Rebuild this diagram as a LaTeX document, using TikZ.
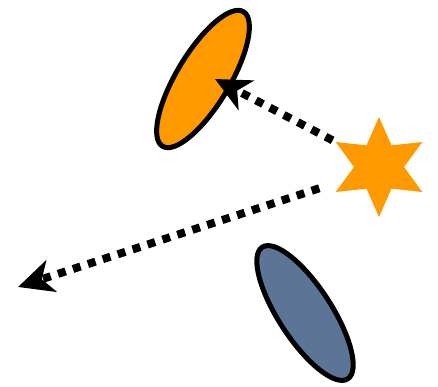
\documentclass[tikz,border=0pt]{standalone}
\usetikzlibrary{arrows.meta,shapes.geometric}
\definecolor{amber}{HTML}{FF9900}
\definecolor{slate}{HTML}{5C7596}
\begin{document}
\begin{tikzpicture}[x=1pt,y=1pt,
  blob/.style={ellipse,draw,line width=5pt,inner sep=0pt,minimum width=157pt,minimum height=53pt},
  ray/.style={line width=8pt,dash pattern=on 8pt off 7.7pt,-{Stealth[length=35pt,width=33pt,inset=10pt]}}]
  \useasboundingbox (0,0) rectangle (438,386);
  \node[blob,fill=amber,rotate=59]  (grain) at (203,307) {};
  \node[blob,fill=slate,rotate=-57] (dust)  at (305,73)  {};
  \node[star,star points=6,star point ratio=2,minimum size=100pt,inner sep=0pt,fill=amber] (source) at (379,219) {};
  \coordinate (far) at (18,99);
  \draw[ray,shorten <=3pt] (source.150) -- ([xshift=12pt]grain.center);
  \draw[ray] ([shift={(-16pt,4pt)}]source.210) -- (far);
\end{tikzpicture}
\end{document}
